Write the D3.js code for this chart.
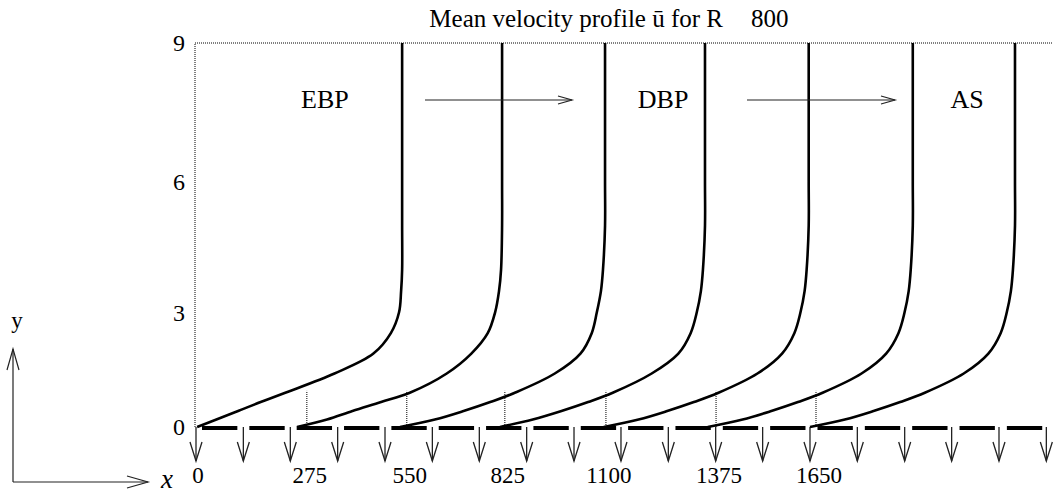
<!DOCTYPE html>
<html>
<head>
<meta charset="utf-8">
<script src="https://cdn.jsdelivr.net/npm/d3@7"></script>
<style>
  body { margin: 0; background: #fff; }
  text { font-family: "Liberation Serif", "Times New Roman", serif; fill: #000; }
</style>
</head>
<body>
<svg width="1053" height="494"></svg>
<script>
// ---- data ----
const yLevels = [0, 0.25, 0.5, 0.75, 1, 1.5, 2, 2.5, 3, 3.5, 4, 5, 6, 9];
// where each profile leaves the wall (x units)
const profileStart = [3, 269, 543, 809, 1085, 1362, 1634];
// u / U at each y level, one array per station
const uEBP1 = [0, 0.094, 0.20, 0.31, 0.43, 0.67, 0.86, 0.945, 0.985, 0.995, 1, 1, 1, 1];
const uEBP2 = [0, 0.146, 0.27, 0.41, 0.55, 0.73, 0.85, 0.93, 0.966, 0.985, 0.995, 1, 1, 1];
const uDBP1 = [0, 0.17, 0.31, 0.44, 0.56, 0.755, 0.88, 0.935, 0.96, 0.98, 0.99, 1, 1, 1];
const uDBP2 = [0, 0.16, 0.30, 0.43, 0.55, 0.74, 0.87, 0.93, 0.96, 0.98, 0.99, 1, 1, 1];
const uDBP3 = [0, 0.17, 0.31, 0.44, 0.56, 0.75, 0.87, 0.93, 0.96, 0.98, 0.99, 1, 1, 1];
const uAS1  = [0, 0.17, 0.31, 0.44, 0.56, 0.75, 0.87, 0.93, 0.96, 0.98, 0.99, 1, 1, 1];
const uAS2  = [0, 0.17, 0.31, 0.44, 0.56, 0.75, 0.87, 0.93, 0.96, 0.98, 0.99, 1, 1, 1];
const profiles = [uEBP1, uEBP2, uDBP1, uDBP2, uDBP3, uAS1, uAS2];

// stations (dotted markers + labels)
const stationPos   = [0, 295, 561, 822, 1091, 1384, 1650];
const stationText  = ["0", "275", "550", "825", "1100", "1375", "1650"];
const markerTop    = 1.05;
// suction arrows along the wall
const suctionX = [0, 126, 251, 377, 503, 629, 754, 880, 1006, 1131, 1257, 1383, 1508, 1634, 1760, 1886, 2011, 2137, 2263];
const yTicks = [0, 3, 6, 9];
const regionNames = ["EBP", "DBP", "AS"];
const regionPos   = [343, 1243, 2052];

// ---- layout ----
const svg = d3.select("svg");
const x = d3.scaleLinear().domain([0, 1650]).range([196, 816]);
const y = d3.scalePow().exponent(1.1).domain([0, 9]).range([427, 43]);
const uScale = d3.scaleLinear().domain([0, 1]).range([0, 205]);

// dotted frame: y axis and top line
svg.append("line")
  .attr("x1", x(0) - 1).attr("x2", x(0) - 1).attr("y1", y(0)).attr("y2", y(9))
  .attr("stroke", "#000").attr("stroke-width", 1).attr("stroke-dasharray", "1,1");
svg.append("line")
  .attr("x1", x(0) - 1).attr("x2", 1053).attr("y1", y(9)).attr("y2", y(9))
  .attr("stroke", "#000").attr("stroke-width", 1).attr("stroke-dasharray", "1,1");

// y tick labels
svg.selectAll(".ytick").data(yTicks).enter().append("text")
  .attr("class", "ytick")
  .attr("x", 185).attr("y", d => y(d))
  .attr("dy", "0.35em")
  .attr("text-anchor", "end")
  .style("font-size", "24px")
  .text(d => d);

// station markers
svg.selectAll(".marker").data(stationPos.slice(1)).enter().append("line")
  .attr("class", "marker")
  .attr("x1", d => x(d)).attr("x2", d => x(d))
  .attr("y1", y(0)).attr("y2", y(markerTop))
  .attr("stroke", "#000").attr("stroke-width", 1).attr("stroke-dasharray", "1,1");

// wall: thick dashed line, gaps at the suction arrows
const step = x(suctionX[1]) - x(suctionX[0]);
svg.append("line")
  .attr("x1", x(0)).attr("x2", 1053).attr("y1", y(0) + 1).attr("y2", y(0) + 1)
  .attr("stroke", "#000").attr("stroke-width", 4)
  .attr("stroke-dasharray", `${step - 12},12`)
  .attr("stroke-dashoffset", step - 12 + 6);

// suction arrows
const arrowLen = 34;
const ag = svg.selectAll(".suction").data(suctionX).enter().append("g")
  .attr("class", "suction")
  .attr("transform", d => `translate(${x(d)},${y(0)})`);
ag.append("line").attr("x1", 0).attr("x2", 0).attr("y1", 0).attr("y2", arrowLen)
  .attr("stroke", "#222").attr("stroke-width", 1.3);
ag.append("path").attr("d", `M-6,${arrowLen - 19}L0,${arrowLen}L6,${arrowLen - 19}`)
  .attr("fill", "none").attr("stroke", "#222").attr("stroke-width", 1.3);

// station labels
svg.selectAll(".xlab").data(stationPos).enter().append("text")
  .attr("class", "xlab")
  .attr("x", (d, i) => x(d) + (i === 0 ? 2 : 3))
  .attr("y", 483)
  .attr("text-anchor", "middle")
  .style("font-size", "23px")
  .text((d, i) => stationText[i]);

// velocity profiles
const line = d3.line()
  .x(d => d[0]).y(d => d[1])
  .curve(d3.curveCatmullRom.alpha(0.5));
svg.selectAll(".profile").data(profiles).enter().append("path")
  .attr("class", "profile")
  .attr("d", (u, i) => line(u.map((v, k) => [x(profileStart[i]) + uScale(v), y(yLevels[k])])))
  .attr("fill", "none").attr("stroke", "#000").attr("stroke-width", 2.6);

// region labels
svg.selectAll(".region").data(regionNames).enter().append("text")
  .attr("class", "region")
  .attr("x", (d, i) => x(regionPos[i]))
  .attr("y", 108)
  .attr("text-anchor", "middle")
  .style("font-size", "26px")
  .text(d => d);

// flow direction arrows between labels
function hArrow(x1, x2, yy) {
  svg.append("line").attr("x1", x1).attr("x2", x2).attr("y1", yy).attr("y2", yy)
    .attr("stroke", "#222").attr("stroke-width", 1.2);
  svg.append("path").attr("d", `M${x2 - 14},${yy - 4}L${x2},${yy}L${x2 - 14},${yy + 4}`)
    .attr("fill", "none").attr("stroke", "#222").attr("stroke-width", 1.2);
}
hArrow(425, 572, 100);
hArrow(747, 895, 100);

// title
svg.append("text").attr("x", 723).attr("y", 27)
  .attr("text-anchor", "end").style("font-size", "25px")
  .text("Mean velocity profile ū for R");
svg.append("text").attr("x", 751).attr("y", 27)
  .style("font-size", "25px")
  .text("800");

// coordinate indicator bottom-left
svg.append("line").attr("x1", 13).attr("x2", 13).attr("y1", 482).attr("y2", 349)
  .attr("stroke", "#222").attr("stroke-width", 1.2);
svg.append("path").attr("d", "M7,370L13,349L19,370")
  .attr("fill", "none").attr("stroke", "#222").attr("stroke-width", 1.2);
svg.append("line").attr("x1", 13).attr("x2", 148).attr("y1", 482).attr("y2", 482)
  .attr("stroke", "#222").attr("stroke-width", 1.2);
svg.append("path").attr("d", "M127,476L148,482L127,488")
  .attr("fill", "none").attr("stroke", "#222").attr("stroke-width", 1.2);
svg.append("text").attr("x", 17).attr("y", 328).attr("text-anchor", "middle")
  .style("font-size", "23px").text("y");
svg.append("text").attr("x", 161).attr("y", 488)
  .style("font-size", "27px").style("font-style", "italic").text("x");
</script>
</body>
</html>
